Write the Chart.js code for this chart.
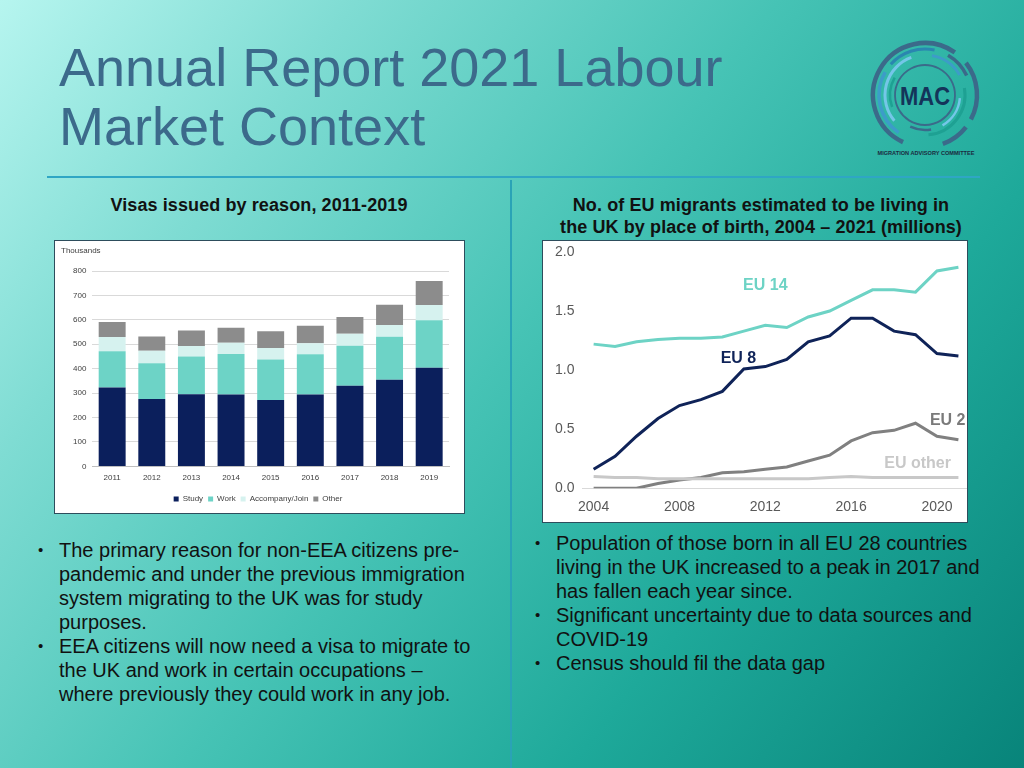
<!DOCTYPE html>
<html>
<head>
<meta charset="utf-8">
<script src="https://cdn.jsdelivr.net/npm/chart.js@4.4.0/dist/chart.umd.min.js"></script>
<style>
    html, body { margin: 0; padding: 0; }
    body {
        width: 1024px; height: 768px; overflow: hidden; position: relative;
        font-family: "Liberation Sans", Arial, sans-serif;
        background: linear-gradient(128deg, #b6f5ef 0%, #7fdcd3 22%, #46c3b5 48%, #1ea99a 72%, #08847a 100%);
    }
    .tytul {
        position: absolute; left: 59px; top: 38px; margin: 0;
        font-size: 54px; font-weight: normal; line-height: 59px; color: #3c6a8b;
    }
    .linia-pozioma { position: absolute; left: 47px; top: 176px; width: 933px; height: 2px; background: #2fa6c4; }
    .linia-pionowa { position: absolute; left: 510px; top: 180px; width: 2px; height: 588px; background: #2aa3b6; }
    .podtytul {
        position: absolute; margin: 0; text-align: center;
        font-size: 18px; font-weight: bold; line-height: 22px; color: #111; letter-spacing: 0.1px;
    }
    .ramka { position: absolute; background: #fff; border: 1px solid #2d4d5c; box-sizing: border-box; }
    .ramka canvas { display: block; }
    ul.punkty {
        position: absolute; margin: 0; padding: 0; list-style: none;
        font-size: 20px; line-height: 24px; color: #111;
    }
    ul.punkty li { position: relative; padding-left: 21px; }
    ul.punkty li::before { content: "•"; position: absolute; left: 0; top: 0; font-size: 15px; }
    .logo { position: absolute; left: 860px; top: 35px; width: 130px; height: 130px; }
</style>
</head>
<body>

<h1 class="tytul">Annual Report 2021 Labour<br>Market Context</h1>

<svg class="logo" viewBox="0 0 130 130" id="logo">
    <text x="65" y="70" text-anchor="middle" font-family="Liberation Sans, Arial" font-weight="bold" font-size="25" fill="#14345a" textLength="50" lengthAdjust="spacingAndGlyphs">MAC</text>
    <text x="66" y="119.5" text-anchor="middle" font-family="Liberation Sans, Arial" font-weight="bold" font-size="5.6" fill="#1b2b40">MIGRATION ADVISORY COMMITTEE</text>
</svg>

<div class="linia-pozioma"></div>
<div class="linia-pionowa"></div>

<p class="podtytul" style="left:49px; top:194px; width:420px;">Visas issued by reason, 2011-2019</p>
<p class="podtytul" style="left:530px; top:194px; width:462px;">No. of EU migrants estimated to be living in<br>the UK by place of birth, 2004 – 2021 (millions)</p>

<div class="ramka" style="left:54px; top:240px; width:411px; height:274px;">
    <canvas id="wykres-wizy" width="409" height="272"></canvas>
</div>
<div class="ramka" style="left:542px; top:240px; width:426px; height:283px;">
    <canvas id="wykres-eu" width="424" height="281"></canvas>
</div>

<ul class="punkty" style="left:38px; top:538px; width:460px;">
    <li>The primary reason for non-EEA citizens pre-<br>pandemic and under the previous immigration<br>system migrating to the UK was for study<br>purposes.</li>
    <li>EEA citizens will now need a visa to migrate to<br>the UK and work in certain occupations –<br>where previously they could work in any job.</li>
</ul>
<ul class="punkty" style="left:535px; top:531px; width:480px;">
    <li>Population of those born in all EU 28 countries<br>living in the UK increased to a peak in 2017 and<br>has fallen each year since.</li>
    <li>Significant uncertainty due to data sources and<br>COVID-19</li>
    <li>Census should fil the data gap</li>
</ul>

<script>
// wykres lewy: wizy wg powodu (tys.)
const lata = ['2011', '2012', '2013', '2014', '2015', '2016', '2017', '2018', '2019'];
const wizyStudia = [323, 276, 295, 294, 272, 294, 330, 355, 404];
const wizyPraca = [148, 146, 155, 166, 166, 165, 164, 176, 194];
const wizyRodzina = [59, 52, 43, 46, 47, 45, 49, 48, 63];
const wizyInne = [61, 58, 63, 62, 68, 72, 69, 83, 98];
const ticksWizy = [0, 100, 200, 300, 400, 500, 600, 700, 800];

// wykres prawy: migranci z UE wg miejsca urodzenia (mln)
const lataEU = [2004, 2005, 2006, 2007, 2008, 2009, 2010, 2011, 2012, 2013, 2014, 2015, 2016, 2017, 2018, 2019, 2020, 2021];
const eu14 = [1.22, 1.20, 1.24, 1.26, 1.27, 1.27, 1.28, 1.33, 1.38, 1.36, 1.45, 1.50, 1.59, 1.68, 1.68, 1.66, 1.84, 1.87];
const eu8 = [0.16, 0.27, 0.44, 0.59, 0.70, 0.75, 0.82, 1.01, 1.03, 1.09, 1.24, 1.29, 1.44, 1.44, 1.33, 1.30, 1.14, 1.12];
const eu2 = [0.00, 0.00, 0.00, 0.04, 0.07, 0.09, 0.13, 0.14, 0.16, 0.18, 0.23, 0.28, 0.40, 0.47, 0.49, 0.55, 0.44, 0.41];
const euInne = [0.10, 0.09, 0.09, 0.08, 0.08, 0.08, 0.08, 0.08, 0.08, 0.08, 0.08, 0.09, 0.10, 0.09, 0.09, 0.09, 0.09, 0.09];
const ticksLataEU = [2004, 2008, 2012, 2016, 2020];
const ticksEU = [0, 0.5, 1.0, 1.5, 2.0];

const KOLORY = {
    studia: '#0b1f5c', praca: '#6dd3c6', rodzina: '#d6f2ef', inne: '#8c8c8c',
    eu14: '#6dd3c5', eu8: '#0f2358', eu2: '#808080', euInne: '#c8c8c8'
};

// podpisy linii w prawym wykresie (współrzędne danych)
const podpisyEU = [
    { tekst: 'EU 14', x: 2012, y: 1.715, kolor: KOLORY.eu14 },
    { tekst: 'EU 8', x: 2010.75, y: 1.096, kolor: KOLORY.eu8 },
    { tekst: 'EU 2', x: 2020.5, y: 0.571, kolor: '#7a7a7a' },
    { tekst: 'EU other', x: 2019.1, y: 0.206, kolor: KOLORY.euInne }
];

function rysujLogo() {
    const svg = document.getElementById('logo');
    const cx = 65, cy = 60;
    const luki = [
        [52, 205, 395, 4.5, '#3b6a8a'],
        [52, 52, 118, 4.5, '#3b6a8a'],
        [52, 128, 160, 4.5, '#3b6a8a'],
        [46, 215, 300, 3.5, '#3d9cc8'],
        [46, 312, 372, 3, '#2a86b0'],
        [46, 30, 65, 3.5, '#3b6a8a'],
        [40, 230, 340, 3, '#74c6e8'],
        [40, 80, 175, 3, '#1ea193'],
        [40, 10, 60, 3, '#3d9cc8'],
        [35, 250, 300, 2.5, '#1ea193'],
        [35, 95, 150, 2.5, '#74c6e8'],
        [35, 170, 205, 2.5, '#3b6a8a'],
        [30, 0, 360, 1.8, '#3b6a8a']
    ];
    luki.forEach(([r, a0, a1, w, kolor]) => {
        const p = document.createElementNS('http://www.w3.org/2000/svg', 'path');
        const rad = a => (a - 90) * Math.PI / 180;
        const x0 = cx + r * Math.cos(rad(a0)), y0 = cy + r * Math.sin(rad(a0));
        const x1 = cx + r * Math.cos(rad(a1 - 0.01)), y1 = cy + r * Math.sin(rad(a1 - 0.01));
        const duzy = (a1 - a0) > 180 ? 1 : 0;
        p.setAttribute('d', `M ${x0} ${y0} A ${r} ${r} 0 ${duzy} 1 ${x1} ${y1}`);
        p.setAttribute('fill', 'none');
        p.setAttribute('stroke', kolor);
        p.setAttribute('stroke-width', w);
        svg.insertBefore(p, svg.firstChild);
    });
}

// napis "Thousands" w lewym górnym rogu, niezależnie od paddingu wykresu
const jednostkaPlugin = {
    id: 'jednostka',
    afterDraw(chart) {
        const ctx = chart.ctx;
        ctx.save();
        ctx.font = '8px "Liberation Sans", Arial, sans-serif';
        ctx.fillStyle = '#404040';
        ctx.textBaseline = 'middle';
        ctx.fillText('Thousands', 6, 10);
        ctx.restore();
    }
};

function utworzWykresWiz() {
    const ctx = document.getElementById('wykres-wizy').getContext('2d');
    const czcionka = { family: '"Liberation Sans", Arial, sans-serif', size: 8 };
    new Chart(ctx, {
        type: 'bar',
        data: {
            labels: lata,
            datasets: [
                { label: 'Study', data: wizyStudia, backgroundColor: KOLORY.studia },
                { label: 'Work', data: wizyPraca, backgroundColor: KOLORY.praca },
                { label: 'Accompany/Join', data: wizyRodzina, backgroundColor: KOLORY.rodzina },
                { label: 'Other', data: wizyInne, backgroundColor: KOLORY.inne }
            ]
        },
        options: {
            responsive: false,
            animation: false,
            layout: { padding: { left: 12, right: 15, top: 30, bottom: 0 } },
            datasets: { bar: { categoryPercentage: 1, barPercentage: 0.68 } },
            scales: {
                x: {
                    stacked: true,
                    grid: { display: false, drawTicks: false },
                    border: { color: '#bfbfbf' },
                    ticks: { color: '#404040', font: czcionka, padding: 7 }
                },
                y: {
                    stacked: true,
                    min: 0, max: 800,
                    afterBuildTicks: axis => { axis.ticks = ticksWizy.map(v => ({ value: v })); },
                    grid: { color: '#d9d9d9', drawTicks: false },
                    border: { display: false },
                    ticks: { color: '#404040', font: czcionka, padding: 6 }
                }
            },
            plugins: {
                legend: {
                    position: 'bottom',
                    labels: { color: '#404040', font: czcionka, boxWidth: 5, boxHeight: 5, padding: 5 }
                },
                tooltip: { enabled: false }
            }
        },
        plugins: [jednostkaPlugin]
    });
}

const podpisyPlugin = {
    id: 'podpisy',
    afterDatasetsDraw(chart) {
        const { ctx, scales } = chart;
        ctx.save();
        ctx.font = 'bold 16px "Liberation Sans", Arial, sans-serif';
        ctx.textAlign = 'center';
        ctx.textBaseline = 'middle';
        podpisyEU.forEach(p => {
            ctx.fillStyle = p.kolor;
            ctx.fillText(p.tekst, scales.x.getPixelForValue(p.x), scales.y.getPixelForValue(p.y));
        });
        ctx.restore();
    }
};

function utworzWykresEU() {
    const ctx = document.getElementById('wykres-eu').getContext('2d');
    const czcionka = { family: '"Liberation Sans", Arial, sans-serif', size: 14 };
    const seria = (nazwa, dane, kolor, grubosc) => ({
        label: nazwa,
        data: lataEU.map((r, i) => ({ x: r, y: dane[i] })),
        borderColor: kolor,
        borderWidth: grubosc,
        pointRadius: 0,
        tension: 0,
        fill: false
    });
    new Chart(ctx, {
        type: 'line',
        data: {
            datasets: [
                seria('EU other', euInne, KOLORY.euInne, 3),
                seria('EU 2', eu2, KOLORY.eu2, 3),
                seria('EU 14', eu14, KOLORY.eu14, 3),
                seria('EU 8', eu8, KOLORY.eu8, 3)
            ]
        },
        options: {
            responsive: false,
            animation: false,
            layout: { padding: { left: 4, right: 0, top: 0, bottom: -5 } },
            scales: {
                x: {
                    type: 'linear',
                    min: 2003.48, max: 2021.4,
                    afterBuildTicks: axis => { axis.ticks = ticksLataEU.map(v => ({ value: v })); },
                    grid: { display: false, drawTicks: false },
                    border: { color: '#d9d9d9' },
                    ticks: { color: '#595959', font: czcionka, padding: 11, callback: v => String(v) }
                },
                y: {
                    min: 0, max: 2,
                    afterBuildTicks: axis => { axis.ticks = ticksEU.map(v => ({ value: v })); },
                    afterFit: axis => { axis.paddingTop = 11; },
                    grid: { display: false, drawTicks: false },
                    border: { display: false },
                    ticks: { color: '#595959', font: czcionka, padding: 8, callback: v => v.toFixed(1) }
                }
            },
            plugins: {
                legend: { display: false },
                tooltip: { enabled: false }
            }
        },
        plugins: [podpisyPlugin]
    });
}

window.addEventListener('DOMContentLoaded', () => {
    rysujLogo();
    utworzWykresWiz();
    utworzWykresEU();
});
</script>
</body>
</html>
